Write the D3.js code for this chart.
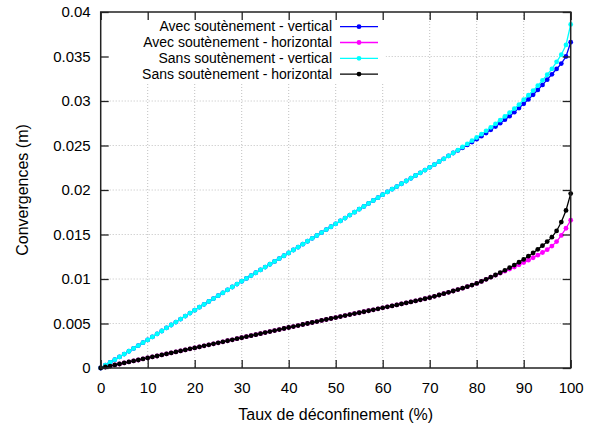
<!DOCTYPE html>
<html>
<head>
<meta charset="utf-8">
<script src="https://cdn.jsdelivr.net/npm/d3@7"></script>
<style>
  body { margin: 0; background: #fff; }
  svg { font-family: "Liberation Sans", Arial, sans-serif; }
</style>
</head>
<body>
<div id="main"></div>
<script>
// taux de déconfinement (%)
const taux = [0,1,2,3,4,5,6,7,8,9,10,11,12,13,14,15,16,17,18,19,20,21,22,23,24,25,26,27,28,29,30,
  31,32,33,34,35,36,37,38,39,40,41,42,43,44,45,46,47,48,49,50,51,52,53,54,55,56,57,58,59,60,
  61,62,63,64,65,66,67,68,69,70,71,72,73,74,75,76,77,78,79,80,81,82,83,84,85,86,87,88,89,90,
  91,92,93,94,95,96,97,98,99,100];

// convergences verticales, partie commune (0 -> 75 %)
const vertCommun = [0,0.00031,0.00062,0.00093,0.00124,0.00156,0.00188,0.00220,0.00252,0.00284,0.00316,
  0.00349,0.00383,0.00416,0.00450,0.00483,0.00516,0.00550,0.00583,0.00617,0.00650,
  0.00683,0.00715,0.00748,0.00780,0.00813,0.00845,0.00878,0.00910,0.00943,0.00975,
  0.01007,0.01039,0.01070,0.01102,0.01134,0.01166,0.01198,0.01229,0.01261,0.01293,
  0.01326,0.01358,0.01391,0.01424,0.01457,0.01489,0.01522,0.01555,0.01587,0.01620,
  0.01653,0.01685,0.01718,0.01751,0.01784,0.01816,0.01849,0.01882,0.01914,0.01947,
  0.01978,0.02009,0.02039,0.02070,0.02101,0.02132,0.02163,0.02193,0.02224,0.02255,
  0.02286,0.02318,0.02350,0.02383,0.02416];
// 76 -> 100 %
const vertAvecFin = [0.02445,0.02475,0.02506,0.02538,0.02571,0.02605,0.02640,0.02676,0.02713,0.02751,
  0.02790,0.02830,0.02875,0.02920,0.02968,0.03018,0.03070,0.03124,0.03181,0.03240,
  0.0330,0.0336,0.0342,0.0350,0.0366];
const vertSansFin = [0.02449,0.02483,0.02518,0.02554,0.02590,0.02627,0.02665,0.02704,0.02744,0.02785,
  0.02827,0.02870,0.02914,0.02960,0.03015,0.03065,0.03117,0.03172,0.03232,0.03295,
  0.0336,0.0344,0.0352,0.0363,0.0386];

// convergences horizontales, partie commune (0 -> 83 %)
const horizCommun = [0,0.00011,0.00022,0.00034,0.00045,0.00057,0.00068,0.00079,0.00090,0.00102,0.00113,
  0.00124,0.00135,0.00147,0.00158,0.00169,0.00181,0.00192,0.00203,0.00215,0.00226,
  0.00237,0.00249,0.00260,0.00272,0.00283,0.00294,0.00306,0.00317,0.00329,0.00340,
  0.00352,0.00363,0.00375,0.00386,0.00398,0.00409,0.00421,0.00432,0.00444,0.00455,
  0.00466,0.00477,0.00489,0.00500,0.00511,0.00522,0.00534,0.00545,0.00556,0.00567,
  0.00578,0.00589,0.00600,0.00611,0.00621,0.00632,0.00643,0.00654,0.00665,0.00676,
  0.00687,0.00698,0.00709,0.00720,0.00731,0.00742,0.00754,0.00766,0.00778,0.00790,
  0.00805,0.00820,0.00835,0.00850,0.00865,0.00881,0.00897,0.00914,0.00932,0.00950,
  0.00973,0.00996,0.01020];
// 84 -> 100 %
const horizAvecFin = [0.01043,0.01065,0.01088,0.01111,0.01135,0.01159,0.01184,0.01211,0.01239,
  0.01268,0.01298,0.01330,0.0137,0.0142,0.0149,0.0157,0.0166];
const horizSansFin = [0.01045,0.01070,0.01098,0.01127,0.01157,0.01188,0.01220,0.01256,0.01293,
  0.01333,0.01375,0.01420,0.0147,0.0154,0.0164,0.0177,0.0196];

const xTicks = [0,10,20,30,40,50,60,70,80,90,100];
const yTicks = [0,0.005,0.01,0.015,0.02,0.025,0.03,0.035,0.04];

const series = [
  { nom: 'Avec soutènement - vertical', couleur: '#0000ff', valeurs: [...vertCommun, ...vertAvecFin] },
  { nom: 'Avec soutènement - horizontal', couleur: '#ff00ff', valeurs: [...horizCommun, ...horizAvecFin] },
  { nom: 'Sans soutènement - vertical', couleur: '#00ffff', valeurs: [...vertCommun, ...vertSansFin] },
  { nom: 'Sans soutènement - horizontal', couleur: '#000000', valeurs: [...horizCommun, ...horizSansFin] }
];

const W = 594, H = 427;
const margin = { top: 12, right: 23.3, bottom: 59, left: 100.7 };
const w = W - margin.left - margin.right;
const h = H - margin.top - margin.bottom;

const svg = d3.select('#main').append('svg').attr('width', W).attr('height', H);
const g = svg.append('g').attr('transform', `translate(${margin.left},${margin.top})`);

const x = d3.scaleLinear().domain([0, 100]).range([0, w]);
const y = d3.scaleLinear().domain([0, 0.04]).range([h, 0]);

// grille pointillée
g.append('g').selectAll('line').data(xTicks.slice(1, -1)).enter().append('line')
  .attr('x1', d => x(d)).attr('x2', d => x(d)).attr('y1', 0).attr('y2', h)
  .attr('stroke', '#c0c0c0').attr('stroke-width', 1).attr('stroke-dasharray', '1,2');
g.append('g').selectAll('line').data(yTicks.slice(1, -1)).enter().append('line')
  .attr('x1', 0).attr('x2', w).attr('y1', d => y(d)).attr('y2', d => y(d))
  .attr('stroke', '#c0c0c0').attr('stroke-width', 1).attr('stroke-dasharray', '1,2');

// fond de la légende
g.append('rect').attr('x', 0).attr('y', 0).attr('width', 285).attr('height', 72).attr('fill', '#fff');

// courbes
const line = d3.line().x((d, i) => x(taux[i])).y(d => y(d));
series.forEach(s => {
  g.append('path').datum(s.valeurs)
    .attr('d', line).attr('fill', 'none')
    .attr('stroke', s.couleur).attr('stroke-width', 1.3);
  g.append('g').selectAll('circle').data(s.valeurs).enter().append('circle')
    .attr('cx', (d, i) => x(taux[i])).attr('cy', d => y(d)).attr('r', 2.4)
    .attr('fill', s.couleur);
});

// axes
const tickLen = 8;
const ax = g.append('g').attr('transform', `translate(0,${h})`)
  .call(d3.axisBottom(x).tickValues(xTicks).tickSizeInner(-tickLen).tickSizeOuter(0).tickPadding(14.6));
const ay = g.append('g')
  .call(d3.axisLeft(y).tickValues(yTicks).tickFormat(d3.format('~g')).tickSizeInner(-tickLen).tickSizeOuter(0).tickPadding(10));
const at = g.append('g')
  .call(d3.axisTop(x).tickValues(xTicks).tickFormat('').tickSizeInner(-tickLen).tickSizeOuter(0));
const ar = g.append('g').attr('transform', `translate(${w},0)`)
  .call(d3.axisRight(y).tickValues(yTicks).tickFormat('').tickSizeInner(-tickLen).tickSizeOuter(0));
[ax, ay, at, ar].forEach(a => {
  a.select('.domain').remove();
  a.selectAll('.tick line').attr('stroke', '#222').attr('stroke-width', 1.3);
  a.selectAll('.tick text').attr('fill', '#000').style('font-size', '15px')
    .style('font-family', '"Liberation Sans", Arial, sans-serif');
});

g.append('rect').attr('x', 0).attr('y', 0).attr('width', w).attr('height', h)
  .attr('fill', 'none').attr('stroke', '#222').attr('stroke-width', 1.5);

// titres des axes
svg.append('text').attr('x', margin.left + w / 2).attr('y', 420)
  .attr('text-anchor', 'middle').style('font-size', '16px').text('Taux de déconfinement (%)');
svg.append('text').attr('transform', `translate(28,${margin.top + h / 2}) rotate(-90)`)
  .attr('text-anchor', 'middle').style('font-size', '16px').text('Convergences (m)');

// légende
const key = svg.append('g');
series.forEach((s, i) => {
  const ry = 26.7 + i * 15.8;
  key.append('text').attr('x', 332).attr('y', ry + 4.6).attr('text-anchor', 'end')
    .style('font-size', '14px').text(s.nom);
  key.append('line').attr('x1', 340).attr('x2', 378).attr('y1', ry).attr('y2', ry)
    .attr('stroke', s.couleur).attr('stroke-width', 1.3);
  key.append('circle').attr('cx', 359).attr('cy', ry).attr('r', 2.4).attr('fill', s.couleur);
});
</script>
</body>
</html>
